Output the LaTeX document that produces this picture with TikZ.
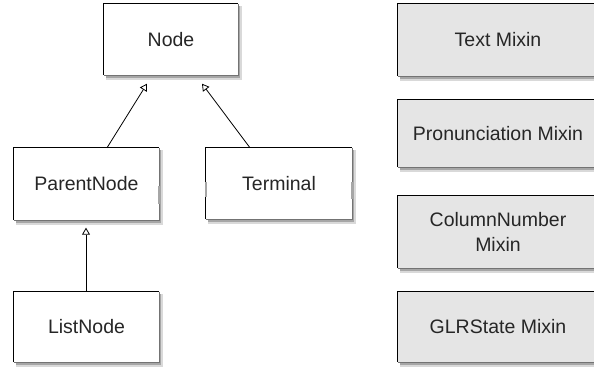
\documentclass[tikz,border=0pt]{standalone}
\usepackage{fontspec}
\setmainfont{Liberation Sans}
\usetikzlibrary{arrows.meta}
\tikzset{
  box/.style={fill=white, inner sep=0pt, text=black!85,
    font=\fontsize{19.5}{25}\selectfont, align=center},
  mixin/.style={box, fill=black!10},
  gen/.style={draw=black, line width=0.8pt,
    -{Triangle[open,width=8pt,length=7pt,line width=0.8pt]}},
  topleft/.style={draw=black, line width=0.9pt},
  botright/.style={draw=black!55, line width=1pt},
  shade1/.style={fill=black!35},
  shade2/.style={fill=black!15},
  port/.style={draw=black!35, line width=2.5pt},
}
\begin{document}
\begin{tikzpicture}[x=1pt,y=1pt]
\useasboundingbox (0,0) rectangle (594,368);
% class boxes
\node[box, minimum width=134pt, minimum height=71pt] (nd) at (171,328.5) {Node};
\node[box, minimum width=145pt, minimum height=72pt] (parent) at (86.5,184) {ParentNode};
\node[box, minimum width=146pt, minimum height=71pt] (terminal) at (279,184.5) {Terminal};
\node[box, minimum width=145pt, minimum height=70pt] (list) at (86.5,41) {ListNode};
% mixins
\node[mixin, minimum width=200pt, minimum height=72pt] (textm) at (498,328) {Text Mixin};
\node[mixin, minimum width=200pt, minimum height=67pt] (pron) at (498,234.5) {Pronunciation Mixin};
\node[mixin, minimum width=200pt, minimum height=72pt] (col) at (498,136) {ColumnNumber\\Mixin};
\node[mixin, minimum width=200pt, minimum height=70pt] (glr) at (498,41) {GLRState Mixin};
% shadows and borders
\foreach \n in {nd,parent,terminal,list,textm,pron,col,glr}{
  \fill[shade2] ([xshift=2pt,yshift=-1pt]\n.south west) rectangle ([xshift=3pt,yshift=-4.5pt]\n.south east);
  \fill[shade2] ([xshift=1pt,yshift=-2pt]\n.north east) rectangle ([xshift=3.5pt,yshift=-4.5pt]\n.south east);
  \fill[shade1] ([xshift=2pt]\n.south west) rectangle ([xshift=2pt,yshift=-2.8pt]\n.south east);
  \fill[shade1] ([yshift=-2pt]\n.north east) rectangle ([xshift=2pt,yshift=-2.8pt]\n.south east);
  \draw[botright] (\n.north east) -- (\n.south east) -- (\n.south west);
  \draw[topleft] (\n.south west) -- (\n.north west) -- (\n.north east);
}
% port marks
\draw[port] ([yshift=-2pt]parent.east) -- ([yshift=-20pt]parent.east);
\draw[port] ([yshift=2pt]terminal.west) -- ([yshift=-13pt]terminal.west);
\draw[port] ([yshift=2pt]terminal.east) -- ([yshift=-15pt]terminal.east);
% generalization connectors
\draw[gen] ([xshift=20.5pt]parent.north) -- ([xshift=-24pt,yshift=-8.5pt]nd.south);
\draw[gen] ([xshift=-29pt]terminal.north) -- ([xshift=31pt,yshift=-8.5pt]nd.south);
\draw[gen] ([xshift=-0.5pt]list.north) -- ([xshift=-0.5pt,yshift=-7.5pt]parent.south);
\end{tikzpicture}
\end{document}
